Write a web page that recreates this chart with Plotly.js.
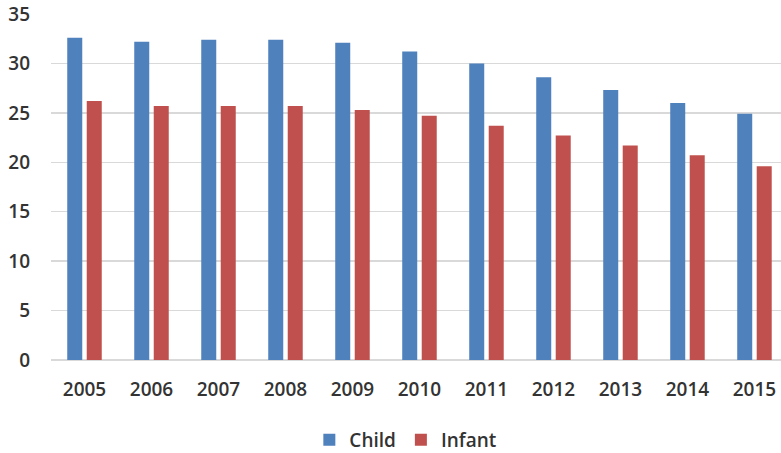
<!DOCTYPE html>
<html>
<head>
<meta charset="utf-8">
<script src="https://cdn.plot.ly/plotly-3.0.1.min.js"></script>
<style>html,body{margin:0;padding:0;background:#fff;}#chart{width:781px;height:453px;}</style>
</head>
<body>
<div id="chart"></div>
<script>
var years = ["2005","2006","2007","2008","2009","2010","2011","2012","2013","2014","2015"];
var child = [32.6, 32.2, 32.4, 32.4, 32.1, 31.2, 30.0, 28.6, 27.3, 26.0, 24.9];
var infant = [26.2, 25.7, 25.7, 25.7, 25.3, 24.7, 23.7, 22.7, 21.7, 20.7, 19.6];
var yTicks = [0, 5, 10, 15, 20, 25, 30, 35];

var font = {family: "Open Sans, Liberation Sans, sans-serif", size: 19, color: "#333333", weight: 600};

var data = [
  {type: "bar", name: "Child", x: years, y: child, marker: {color: "#4F81BD"}},
  {type: "bar", name: "Infant", x: years, y: infant, marker: {color: "#C0504D"}}
];

var layout = {
  width: 781, height: 453,
  margin: {l: 51, r: 0, t: 14, b: 93, pad: 0},
  paper_bgcolor: "#ffffff", plot_bgcolor: "#ffffff",
  barmode: "group", bargap: 0.418, bargroupgap: 0.23,
  font: font,
  showlegend: true,
  legend: {orientation: "h", x: 0.519, xanchor: "center", xref: "container",
           y: 13 / 453, yanchor: "middle", yref: "container",
           font: font, itemwidth: 30, traceorder: "normal"},
  xaxis: {type: "category", range: [-0.5, 10.396], showgrid: false, zeroline: false,
          showline: false, ticks: "", tickfont: font, automargin: false, ticklabelstandoff: 16},
  yaxis: {range: [0, 35], tickvals: yTicks, ticktext: yTicks.map(String),
          showgrid: true, gridcolor: "#d9d9d9", gridwidth: 1.5, zeroline: true,
          zerolinecolor: "#d9d9d9", zerolinewidth: 1.5, showline: false, ticks: "",
          tickfont: font, automargin: false, ticklabelstandoff: 20}
};

Plotly.newPlot("chart", data, layout, {staticPlot: true, displayModeBar: false});
</script>
</body>
</html>
